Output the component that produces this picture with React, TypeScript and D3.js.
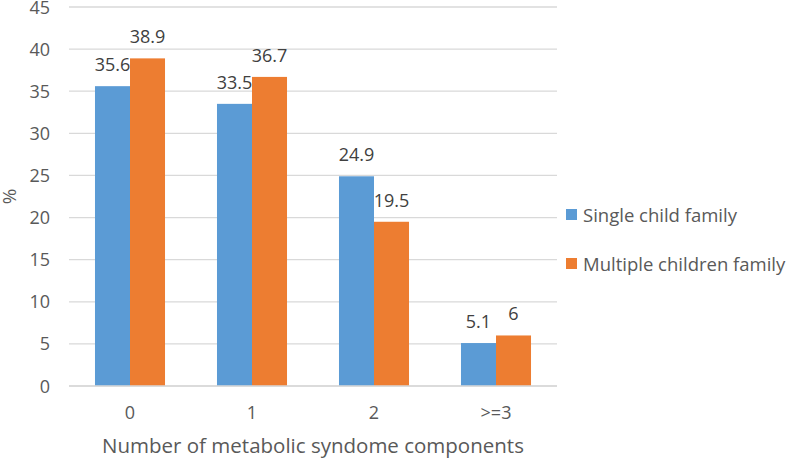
import { useEffect, useRef } from 'react'
import * as d3 from 'd3'

const categories = ['0', '1', '2', '>=3']
const singleChild = [35.6, 33.5, 24.9, 5.1]
const multipleChildren = [38.9, 36.7, 19.5, 6]
const seriesNames = ['Single child family', 'Multiple children family']
const yTicks = [0, 5, 10, 15, 20, 25, 30, 35, 40, 45]

const App = () => {
  const svgRef = useRef<SVGSVGElement>(null)

  useEffect(() => {
    if (!svgRef.current) return
    const svg = d3.select(svgRef.current)
    svg.selectAll('*').remove()

    const font = '"Open Sans", "Noto Sans", sans-serif'
    const textColor = '#595959'
    const colors = ['#5B9BD5', '#ED7D31']
    const left = 69
    const right = 557
    const top = 7
    const bottom = 386

    const x0 = d3.scaleBand().domain(categories).range([left, right]).paddingInner(0.426).paddingOuter(0.213)
    const x1 = d3.scaleBand().domain(seriesNames).range([0, x0.bandwidth()])
    const y = d3.scaleLinear().domain([0, 45]).range([bottom, top])

    // Grid lines
    svg
      .append('g')
      .selectAll('line')
      .data(yTicks)
      .enter()
      .append('line')
      .attr('x1', left)
      .attr('x2', right)
      .attr('y1', (d) => y(d))
      .attr('y2', (d) => y(d))
      .attr('stroke', '#D9D9D9')
      .attr('stroke-width', 1.3)

    // Y tick labels
    svg
      .append('g')
      .selectAll('text')
      .data(yTicks)
      .enter()
      .append('text')
      .attr('x', 50)
      .attr('y', (d) => y(d) + 6.5)
      .attr('text-anchor', 'end')
      .style('font-family', font)
      .style('font-size', '18px')
      .style('fill', textColor)
      .text((d) => d)

    const series = [singleChild, multipleChildren]
    series.forEach((values, si) => {
      const g = svg.append('g')
      g.selectAll('rect')
        .data(values)
        .enter()
        .append('rect')
        .attr('x', (_, i) => x0(categories[i])! + x1(seriesNames[si])!)
        .attr('y', (d) => y(d))
        .attr('width', x1.bandwidth())
        .attr('height', (d) => bottom - y(d))
        .attr('fill', colors[si])

      g.selectAll('text')
        .data(values)
        .enter()
        .append('text')
        .attr('x', (_, i) => x0(categories[i])! + x1(seriesNames[si])! + x1.bandwidth() / 2)
        .attr('y', (d) => y(d) - 15)
        .attr('text-anchor', 'middle')
        .style('font-family', font)
        .style('font-size', '18px')
        .style('fill', '#404040')
        .text((d) => d)
    })

    // X axis line
    svg
      .append('line')
      .attr('x1', left)
      .attr('x2', right)
      .attr('y1', bottom)
      .attr('y2', bottom)
      .attr('stroke', '#D9D9D9')
      .attr('stroke-width', 1.3)

    // X tick labels
    svg
      .append('g')
      .selectAll('text')
      .data(categories)
      .enter()
      .append('text')
      .attr('x', (d) => x0(d)! + x0.bandwidth() / 2)
      .attr('y', 419)
      .attr('text-anchor', 'middle')
      .style('font-family', font)
      .style('font-size', '18px')
      .style('fill', textColor)
      .text((d) => d)

    // X axis title
    svg
      .append('text')
      .attr('x', (left + right) / 2)
      .attr('y', 453)
      .attr('text-anchor', 'middle')
      .style('font-family', font)
      .style('font-size', '20.5px')
      .style('fill', textColor)
      .text('Number of metabolic syndome components')

    // Y axis title
    svg
      .append('text')
      .attr('transform', `translate(16,${(top + bottom) / 2}) rotate(-90)`)
      .attr('text-anchor', 'middle')
      .style('font-family', font)
      .style('font-size', '19px')
      .style('fill', textColor)
      .text('%')

    // Legend
    seriesNames.forEach((name, i) => {
      const row = svg.append('g').attr('transform', `translate(566,${209 + i * 49})`)
      row.append('rect').attr('width', 11).attr('height', 11).attr('fill', colors[i])
      row
        .append('text')
        .attr('x', 17)
        .attr('y', 12.5)
        .style('font-family', font)
        .style('font-size', '18.5px')
        .style('fill', textColor)
        .text(name)
    })
  }, [])

  return (
    <svg
      ref={svgRef}
      width={787}
      height={460}
      style={{ position: 'absolute', left: 0, top: 0, display: 'block' }}
    />
  )
}

export default App
